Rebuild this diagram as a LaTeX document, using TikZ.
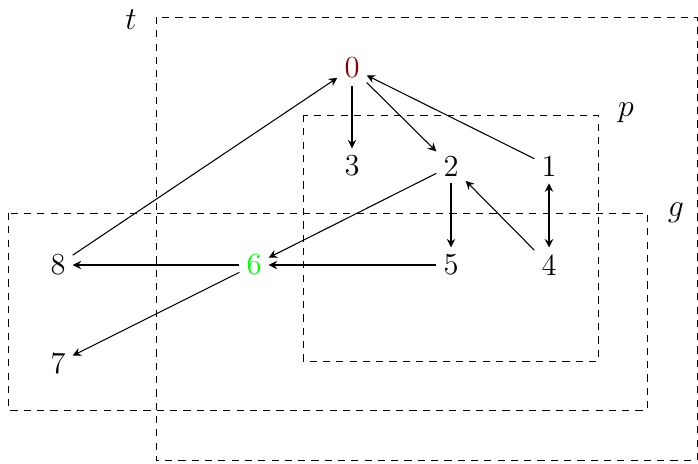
\documentclass[tikz,border=0pt]{standalone}
\usetikzlibrary{arrows.meta}
\definecolor{darkred}{RGB}{139,0,0}
\definecolor{brightgreen}{RGB}{0,255,0}
\begin{document}
\begin{tikzpicture}[x=0.376pt,y=-0.376pt,
  >={Stealth[length=3.2pt,width=3.2pt,inset=1.1pt]},
  every node/.style={font=\fontsize{11.5}{13}\selectfont},
  vert/.style={inner sep=2.5pt},
  edge/.style={->},
  region/.style={line width=0.3pt,dash pattern=on 2.7pt off 2.3pt},
  rlabel/.style={inner sep=0pt}]
\useasboundingbox (0,0) rectangle (698,463);
% regions
\draw[region] (156,17) rectangle (697,460);
\draw[region] (303,115) rectangle (598,361);
\draw[region] (8,213) rectangle (647,410);
\node[rlabel] (lt) at (131,20) {$t$};
\node[rlabel] (lp) at (626,113) {$p$};
\node[rlabel] (lg) at (676,213) {$g$};
% vertices
\node[vert,text=darkred] (n0) at (352,68) {0};
\node[vert] (n3) at (352,166) {3};
\node[vert] (n2) at (451,166) {2};
\node[vert] (n1) at (549,166) {1};
\node[vert] (n8) at (58,265) {8};
\node[vert,text=brightgreen] (n6) at (254,265) {6};
\node[vert] (n5) at (451,265) {5};
\node[vert] (n4) at (549,265) {4};
\node[vert] (n7) at (58,363) {7};
% edges
\draw[edge] (n0) -- (n3);
\draw[edge] (n0) -- (n2);
\draw[edge] (n1) -- (n0);
\draw[edge] (n2) -- (n6);
\draw[edge] (n2) -- (n5);
\draw[edge] (n4) -- (n2);
\draw[<->] (n1) -- (n4);
\draw[edge] (n5) -- (n6);
\draw[edge] (n6) -- (n8);
\draw[edge] (n6) -- (n7);
\draw[edge] (n8) -- (n0);
\end{tikzpicture}
\end{document}
